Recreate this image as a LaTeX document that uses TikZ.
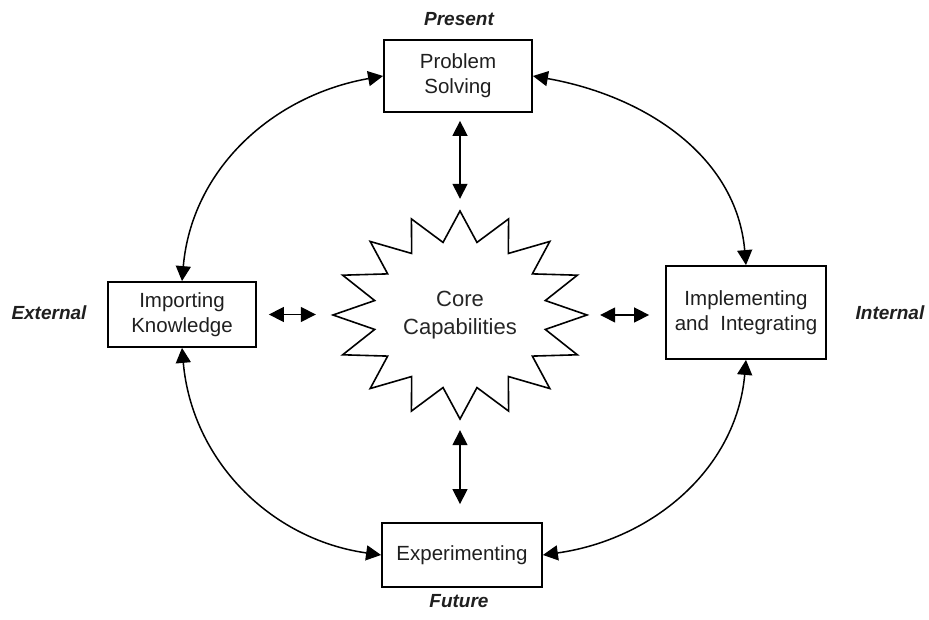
\documentclass[tikz,border=0pt]{standalone}
\usepackage{fontspec}
\setmainfont{Liberation Sans}
\usetikzlibrary{arrows.meta}
\begin{document}
\begin{tikzpicture}[x=1pt,y=1pt,
  box/.style={draw=black, line width=1.8pt, align=center, inner sep=0pt,
     font=\fontsize{20.5}{25}\selectfont, text=black!88},
  dbl/.style={{Triangle[length=15pt,width=15pt]}-{Triangle[length=15pt,width=15pt]}, line width=1.5pt},
  lab/.style={font=\fontsize{19}{22}\selectfont\bfseries\itshape, text=black!88}]
\useasboundingbox (0,0) rectangle (929,620);
\node[box, minimum width=148, minimum height=72] (ps) at (458,544) {Problem\\Solving};
\node[box, minimum width=148, minimum height=65] (ik) at (182,305.5) {Importing\\Knowledge};
\node[box, minimum width=160, minimum height=93] (impl) at (746,307.5) {Implementing\\and~ Integrating};
\node[box, minimum width=160, minimum height=64] (exp) at (462,65) {Experimenting};
% star
\draw[line width=1.6pt, line join=miter]
  plot[samples at={0,...,31}] ({460+(isodd(\x)?87:127)*cos(90+11.25*\x)},{305+(isodd(\x)?74:104)*sin(90+11.25*\x)}) -- cycle;
\node[inner sep=0pt, minimum width=254, minimum height=208, align=center,
  font=\fontsize{22}{28}\selectfont, text=black!85] (core) at (460,305) {Core\\Capabilities};
% labels
\node[lab] (present) at (459,601) {Present};
\node[lab] (external) at (49,307) {External};
\node[lab] (internal) at (890,307) {Internal};
\node[lab] (future) at (459,19) {Future};
% short arrows
\draw[dbl, shorten <=8pt, shorten >=12pt] (ps.south -| core.north) -- (core.north);
\draw[dbl, shorten <=11pt, shorten >=18pt] (core.south) -- (core.south |- exp.north);
\draw[dbl, shorten <=12pt, shorten >=17pt] (ik.east) -- (ik.east -| core.west);
\draw[dbl, shorten <=13pt, shorten >=16pt] (core.east) -- (core.east -| impl.west);
% curved arrows
\draw[dbl] (ps.west) to[out=190,in=85] (ik.north);
\draw[dbl] (ps.east) to[out=-10,in=95] (impl.north);
\draw[dbl] (ik.south) to[out=-85,in=172] (exp.west);
\draw[dbl] (impl.south) to[out=-95,in=8] (exp.east);
\end{tikzpicture}
\end{document}
